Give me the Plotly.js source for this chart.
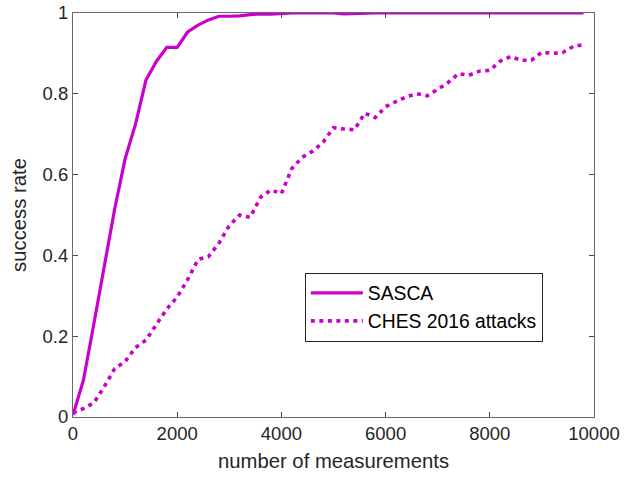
<!DOCTYPE html>
<html>
<head>
<meta charset="utf-8">
<script src="https://cdn.plot.ly/plotly-3.0.1.min.js"></script>
<style>html,body{margin:0;padding:0;background:#fff;}#chart{width:624px;height:482px;}</style>
</head>
<body>
<div id="chart"></div>
<script>
var measurements = [0,200,400,600,800,1000,1200,1400,1600,1800,2000,2200,2400,2600,2800,3000,3200,3400,3600,3800,4000,4200,4400,4600,4800,5000,5200,5400,5600,5800,6000,6200,6400,6600,6800,7000,7200,7400,7600,7800,8000,8200,8400,8600,8800,9000,9200,9400,9600,9800];
var sasca = [0.005,0.091,0.23,0.37,0.515,0.639,0.725,0.834,0.88,0.915,0.915,0.953,0.97,0.983,0.992,0.992,0.993,0.996,0.998,0.997,0.999,1.0,1.0,1.0,1.0,1.0,0.998,0.999,1.0,1.0,1.0,1.0,1.0,1.0,1.0,1.0,1.0,1.0,1.0,1.0,1.0,1.0,1.0,1.0,1.0,1.0,1.0,1.0,1.0,1.0];
var ches = [0.01,0.021,0.035,0.075,0.12,0.137,0.172,0.19,0.229,0.267,0.297,0.34,0.39,0.397,0.43,0.474,0.5,0.494,0.544,0.562,0.553,0.615,0.643,0.658,0.68,0.716,0.713,0.711,0.752,0.741,0.768,0.781,0.793,0.8,0.795,0.811,0.828,0.85,0.846,0.856,0.858,0.881,0.892,0.883,0.883,0.903,0.9,0.902,0.917,0.922];
var seriesNames = ["SASCA", "CHES 2016 attacks"];
var xTicks = [0,2000,4000,6000,8000,10000];
var yTicks = [0,0.2,0.4,0.6,0.8,1];

var color = '#cc00cc';
var traces = [
  {x: measurements, y: sasca, name: seriesNames[0], mode: 'lines', line: {color: color, width: 3.2}},
  {x: measurements, y: ches, name: seriesNames[1], mode: 'lines', line: {color: color, width: 3.6, dash: '4px,4.5px'}}
];
var fontFam = '"Liberation Sans", Arial, Helvetica, sans-serif';
var axCommon = {
  showgrid: false, zeroline: false, showline: true, mirror: 'ticks',
  linecolor: '#6a6a6a', linewidth: 1, ticks: 'inside', ticklen: 5, tickcolor: '#4a4a4a', tickwidth: 1,
  tickfont: {family: fontFam, size: 18.5, color: '#262626'}
};
var layout = {
  width: 624, height: 482,
  margin: {l: 73, r: 30, t: 13, b: 65},
  paper_bgcolor: '#fff', plot_bgcolor: '#fff',
  showlegend: true,
  font: {family: fontFam, color: '#262626'},
  xaxis: Object.assign({}, axCommon, {
    range: [0, 10000], tickvals: xTicks, ticktext: xTicks.map(String),
    title: {text: 'number of measurements', font: {family: fontFam, size: 20.3, color: '#262626'}, standoff: 10}
  }),
  yaxis: Object.assign({}, axCommon, {
    range: [0, 1], tickvals: yTicks, ticktext: yTicks.map(String),
    title: {text: 'success rate', font: {family: fontFam, size: 20.3, color: '#262626'}, standoff: 10}
  }),
  legend: {
    x: 0.445, y: 0.357, xanchor: 'left', yanchor: 'top',
    bgcolor: '#fff', bordercolor: '#262626', borderwidth: 1,
    font: {family: fontFam, size: 19.3, color: '#000'},
    itemwidth: 52, tracegroupgap: 0
  }
};
Plotly.newPlot('chart', traces, layout, {staticPlot: true, displayModeBar: false});
</script>
</body>
</html>
